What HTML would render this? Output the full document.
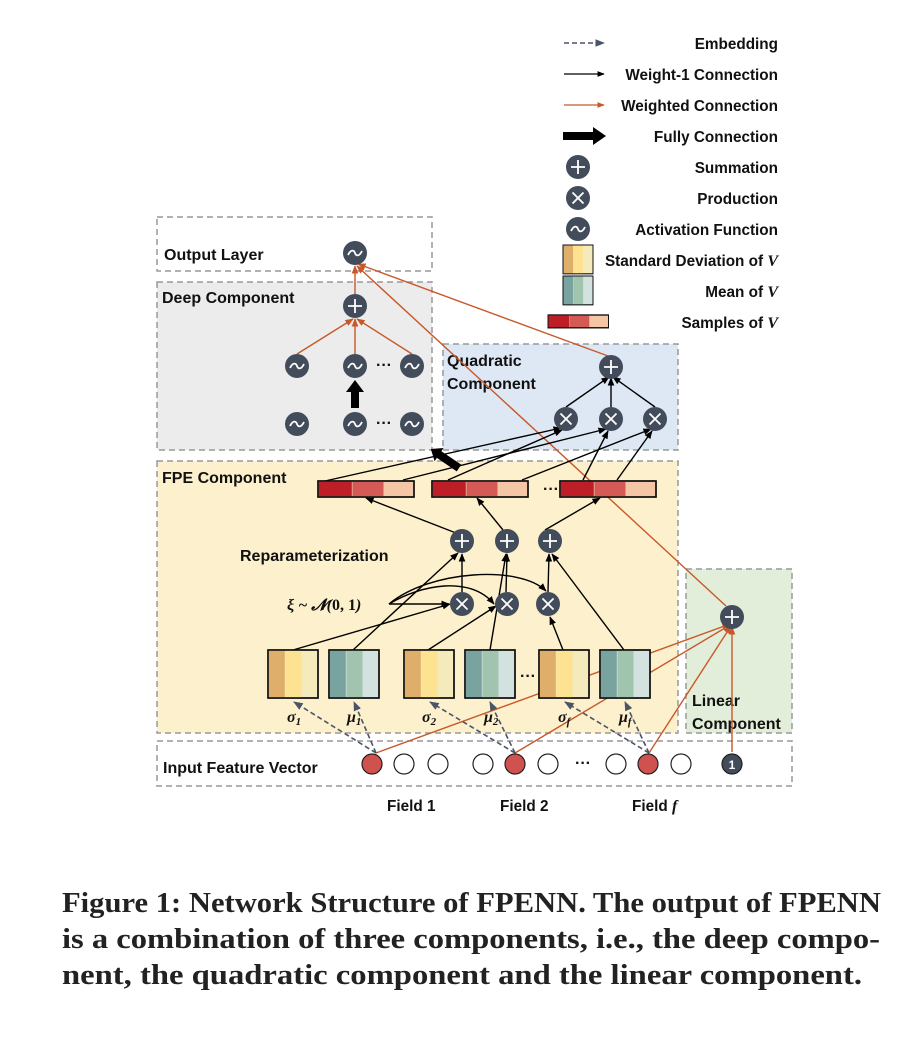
<!DOCTYPE html>
<html><head><meta charset="utf-8"><style>
html,body{margin:0;padding:0;background:#fff;}
svg{display:block;}
.t{font-family:"Liberation Sans","DejaVu Sans",sans-serif;font-weight:bold;font-size:16px;fill:#111;}
.l{font-family:"Liberation Sans","DejaVu Sans",sans-serif;font-weight:bold;font-size:15.3px;fill:#111;}
.m{font-family:"Liberation Serif","DejaVu Serif",serif;font-weight:bold;font-style:italic;font-size:16px;fill:#111;}
.cap{font-family:"Liberation Serif","DejaVu Serif",serif;font-weight:bold;font-size:29px;fill:#222;}
.w{stroke:#fff;stroke-width:1.8;fill:none;}
</style></head><body>
<svg width="918" height="1040" viewBox="0 0 918 1040" xmlns="http://www.w3.org/2000/svg">
<defs>
<marker id="ab" viewBox="0 0 10 10" refX="9" refY="5" markerWidth="6" markerHeight="6" orient="auto"><path d="M0,1 L10,5 L0,9z" fill="#000"/></marker>
<marker id="ao" viewBox="0 0 10 10" refX="9" refY="5" markerWidth="6" markerHeight="6" orient="auto"><path d="M0,1 L10,5 L0,9z" fill="#c8582a"/></marker>
<marker id="ad" viewBox="0 0 10 10" refX="9" refY="5" markerWidth="6" markerHeight="6" orient="auto"><path d="M0,1 L10,5 L0,9z" fill="#4a5568"/></marker>
<g id="sd"><rect x="0" y="0" width="50" height="48" fill="#f5eabb" stroke="#111" stroke-width="1.5"/><rect x="0.8" y="0.8" width="16" height="46.4" fill="#deae6a"/><rect x="17.5" y="0.8" width="16" height="46.4" fill="#fde391"/><rect x="0" y="0" width="50" height="48" fill="none" stroke="#111" stroke-width="1.5"/></g>
<g id="mn"><rect x="0" y="0" width="50" height="48" fill="#d3e2de" stroke="#111" stroke-width="1.5"/><rect x="0.8" y="0.8" width="16" height="46.4" fill="#78a39f"/><rect x="17.5" y="0.8" width="16" height="46.4" fill="#a0c4ae"/><rect x="0" y="0" width="50" height="48" fill="none" stroke="#111" stroke-width="1.5"/></g>
<g id="sp"><rect x="0" y="0" width="96" height="16" fill="#f5c6a6" stroke="#111" stroke-width="1.5"/><rect x="0.8" y="0.8" width="33" height="14.4" fill="#be1f26"/><rect x="34.5" y="0.8" width="31" height="14.4" fill="#d45a55"/><rect x="0" y="0" width="96" height="16" fill="none" stroke="#111" stroke-width="1.5"/></g>
<g id="P"><circle r="12" fill="#434c5b"/><path class="w" d="M-7,0H7M0,-7V7"/></g>
<g id="X"><circle r="12" fill="#434c5b"/><path class="w" d="M-5.5,-5.5L5.5,5.5M5.5,-5.5L-5.5,5.5"/></g>
<g id="A"><circle r="12" fill="#434c5b"/><path class="w" d="M-7,2 C-4,-4 -1,-3 0,0 C1,3 4,4 7,-2"/></g>
</defs>

<rect x="157" y="217" width="275" height="54" fill="#fff" stroke="#999" stroke-dasharray="6,4" stroke-width="1.5"/>
<rect x="157" y="282" width="275" height="168" fill="#ececec" stroke="#999" stroke-dasharray="6,4" stroke-width="1.5"/>
<rect x="443" y="344" width="235" height="106" fill="#dde8f4" stroke="#999" stroke-dasharray="6,4" stroke-width="1.5"/>
<rect x="157" y="461" width="521" height="272" fill="#fdf0cc" stroke="#999" stroke-dasharray="6,4" stroke-width="1.5"/>
<rect x="686" y="569" width="106" height="164" fill="#e2eed9" stroke="#999" stroke-dasharray="6,4" stroke-width="1.5"/>
<rect x="157" y="741" width="635" height="45" fill="#fff" stroke="#999" stroke-dasharray="6,4" stroke-width="1.5"/>

<text class="t" x="164" y="260">Output Layer</text>
<text class="t" x="162" y="303">Deep Component</text>
<text class="t" x="447" y="366">Quadratic</text>
<text class="t" x="447" y="389">Component</text>
<text class="t" x="162" y="483">FPE Component</text>
<text class="t" x="240" y="561">Reparameterization</text>
<text class="t" x="692" y="706">Linear</text>
<text class="t" x="692" y="729">Component</text>
<text class="t" x="163" y="773">Input Feature Vector</text>
<text class="l" x="387" y="811">Field 1</text>
<text class="l" x="500" y="811">Field 2</text>
<text class="l" x="632" y="811">Field <tspan class="m">f</tspan></text>

<g stroke="#c8582a" stroke-width="1.4" fill="none">
<line x1="355" y1="294" x2="355" y2="266" marker-end="url(#ao)"/>
<line x1="297" y1="354" x2="353" y2="319" marker-end="url(#ao)"/>
<line x1="355" y1="354" x2="355" y2="319" marker-end="url(#ao)"/>
<line x1="412" y1="354" x2="357" y2="319" marker-end="url(#ao)"/>
<line x1="608" y1="356" x2="358" y2="264" marker-end="url(#ao)"/>
<line x1="726" y1="606" x2="357" y2="266" marker-end="url(#ao)"/>
<line x1="376" y1="753" x2="730" y2="624" marker-end="url(#ao)"/>
<line x1="515" y1="753" x2="730" y2="625" marker-end="url(#ao)"/>
<line x1="649" y1="753" x2="731" y2="626" marker-end="url(#ao)"/>
<line x1="732" y1="752" x2="732" y2="627" marker-end="url(#ao)"/>
</g>

<g stroke="#000" stroke-width="1.4" fill="none">
<line x1="566" y1="407" x2="609" y2="377" marker-end="url(#ab)"/>
<line x1="611" y1="407" x2="611" y2="378" marker-end="url(#ab)"/>
<line x1="655" y1="407" x2="613" y2="377" marker-end="url(#ab)"/>
<line x1="325" y1="481" x2="561" y2="428" marker-end="url(#ab)"/>
<line x1="403" y1="480" x2="606" y2="429" marker-end="url(#ab)"/>
<line x1="448" y1="480" x2="562" y2="430" marker-end="url(#ab)"/>
<line x1="522" y1="480" x2="651" y2="429" marker-end="url(#ab)"/>
<line x1="583" y1="480" x2="608" y2="431" marker-end="url(#ab)"/>
<line x1="617" y1="480" x2="652" y2="431" marker-end="url(#ab)"/>
<line x1="456" y1="533" x2="366" y2="498" marker-end="url(#ab)"/>
<line x1="503" y1="530" x2="477" y2="498" marker-end="url(#ab)"/>
<line x1="545" y1="530" x2="600" y2="498" marker-end="url(#ab)"/>
<line x1="462" y1="592" x2="462" y2="554" marker-end="url(#ab)"/>
<line x1="506" y1="592" x2="507" y2="554" marker-end="url(#ab)"/>
<line x1="548" y1="592" x2="549" y2="554" marker-end="url(#ab)"/>
<line x1="293" y1="650" x2="450" y2="604" marker-end="url(#ab)"/>
<line x1="353" y1="650" x2="458" y2="553" marker-end="url(#ab)"/>
<line x1="428" y1="650" x2="496" y2="606" marker-end="url(#ab)"/>
<line x1="490" y1="650" x2="506" y2="554" marker-end="url(#ab)"/>
<line x1="563" y1="650" x2="550" y2="617" marker-end="url(#ab)"/>
<line x1="624" y1="650" x2="552" y2="554" marker-end="url(#ab)"/>
<line x1="389" y1="604" x2="449" y2="604" marker-end="url(#ab)"/>
<path d="M389,604 C420,585 470,575 494,604" marker-end="url(#ab)"/>
<path d="M389,604 C430,570 520,565 546,591" marker-end="url(#ab)"/>
</g>

<path d="M351,408 V392 H346 L355,380 L364,392 H359 V408Z" fill="#000"/>
<g transform="translate(459,468) rotate(-146)"><path d="M0,-4 H24 V-8 L34,0 L24,8 V4 H0Z" fill="#000"/></g>

<g stroke="#4a5568" stroke-width="1.6" stroke-dasharray="5,3" fill="none">
<line x1="376" y1="753" x2="294" y2="702" marker-end="url(#ad)"/>
<line x1="376" y1="753" x2="354" y2="702" marker-end="url(#ad)"/>
<line x1="515" y1="753" x2="430" y2="702" marker-end="url(#ad)"/>
<line x1="515" y1="753" x2="490" y2="702" marker-end="url(#ad)"/>
<line x1="649" y1="753" x2="565" y2="702" marker-end="url(#ad)"/>
<line x1="649" y1="753" x2="625" y2="702" marker-end="url(#ad)"/>
</g>

<use href="#A" x="355" y="253"/>
<use href="#P" x="355" y="306"/>
<use href="#A" x="297" y="366"/><use href="#A" x="355" y="366"/><use href="#A" x="412" y="366"/>
<use href="#A" x="297" y="424"/><use href="#A" x="355" y="424"/><use href="#A" x="412" y="424"/>
<text class="t" x="376" y="370">···</text><text class="t" x="376" y="428">···</text>
<use href="#P" x="611" y="367"/>
<use href="#X" x="566" y="419"/><use href="#X" x="611" y="419"/><use href="#X" x="655" y="419"/>
<use href="#sp" x="318" y="481"/><use href="#sp" x="432" y="481"/><use href="#sp" x="560" y="481"/>
<text class="t" x="543" y="494">···</text>
<use href="#P" x="462" y="541"/><use href="#P" x="507" y="541"/><use href="#P" x="550" y="541"/>
<use href="#X" x="462" y="604"/><use href="#X" x="507" y="604"/><use href="#X" x="548" y="604"/>
<use href="#P" x="732" y="617"/>
<text class="m" x="287" y="610" font-size="17">ξ ~ 𝓝(<tspan font-style="normal">0, 1</tspan>)</text>
<use href="#sd" x="268" y="650"/><use href="#mn" x="329" y="650"/>
<use href="#sd" x="404" y="650"/><use href="#mn" x="465" y="650"/>
<use href="#sd" x="539" y="650"/><use href="#mn" x="600" y="650"/>
<text class="t" x="520" y="681">···</text>
<text class="m" x="287" y="722">σ<tspan font-size="11" dy="3">1</tspan></text>
<text class="m" x="347" y="722">μ<tspan font-size="11" dy="3">1</tspan></text>
<text class="m" x="422" y="722">σ<tspan font-size="11" dy="3">2</tspan></text>
<text class="m" x="484" y="722">μ<tspan font-size="11" dy="3">2</tspan></text>
<text class="m" x="558" y="722">σ<tspan font-size="11" dy="3">f</tspan></text>
<text class="m" x="619" y="722">μ<tspan font-size="11" dy="3">f</tspan></text>

<g stroke="#222" stroke-width="1.2">
<circle cx="372" cy="764" r="10" fill="#d0524f"/>
<circle cx="404" cy="764" r="10" fill="#fff"/>
<circle cx="438" cy="764" r="10" fill="#fff"/>
<circle cx="483" cy="764" r="10" fill="#fff"/>
<circle cx="515" cy="764" r="10" fill="#d0524f"/>
<circle cx="548" cy="764" r="10" fill="#fff"/>
<circle cx="616" cy="764" r="10" fill="#fff"/>
<circle cx="648" cy="764" r="10" fill="#d0524f"/>
<circle cx="681" cy="764" r="10" fill="#fff"/>
<circle cx="732" cy="764" r="10" fill="#434c5b"/>
</g>
<text class="t" x="575" y="768">···</text>
<text x="732" y="769" text-anchor="middle" font-family="Liberation Sans,sans-serif" font-weight="bold" font-size="12" fill="#fff">1</text>

<line x1="564" y1="43" x2="604" y2="43" stroke="#4a5568" stroke-width="1.6" stroke-dasharray="5,3" marker-end="url(#ad)"/>
<line x1="564" y1="74" x2="604" y2="74" stroke="#000" stroke-width="1.2" marker-end="url(#ab)"/>
<line x1="564" y1="105" x2="604" y2="105" stroke="#c8582a" stroke-width="1.2" marker-end="url(#ao)"/>
<path d="M563,132 H593 V127 L606,136 L593,145 V140 H563Z" fill="#000"/>
<use href="#P" x="578" y="167"/><use href="#X" x="578" y="198"/><use href="#A" x="578" y="229"/>
<g transform="translate(563,245) scale(0.6,0.6)"><use href="#sd"/></g>
<g transform="translate(563,276) scale(0.6,0.6)"><use href="#mn"/></g>
<g transform="translate(548,315) scale(0.63,0.8)"><use href="#sp"/></g>
<g class="l" text-anchor="end">
<text x="778" y="49">Embedding</text>
<text x="778" y="80">Weight-1 Connection</text>
<text x="778" y="111">Weighted Connection</text>
<text x="778" y="142">Fully Connection</text>
<text x="778" y="173">Summation</text>
<text x="778" y="204">Production</text>
<text x="778" y="235">Activation Function</text>
<text x="778" y="266">Standard Deviation of  <tspan class="m">V</tspan></text>
<text x="778" y="297">Mean of <tspan class="m">V</tspan></text>
<text x="778" y="328">Samples of <tspan class="m">V</tspan></text>
</g>

<text class="cap" x="62" y="912" textLength="819" lengthAdjust="spacingAndGlyphs">Figure 1: Network Structure of FPENN. The output of FPENN</text>
<text class="cap" x="62" y="948" textLength="818" lengthAdjust="spacingAndGlyphs">is a combination of three components, i.e., the deep compo-</text>
<text class="cap" x="62" y="984" textLength="800" lengthAdjust="spacingAndGlyphs">nent, the quadratic component and the linear component.</text>
</svg>
</body></html>
